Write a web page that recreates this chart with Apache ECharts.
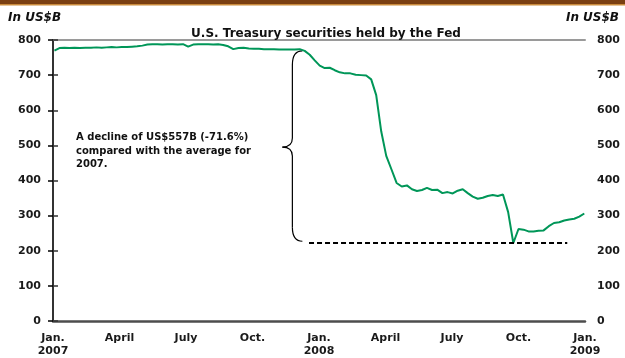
<!DOCTYPE html>
<html><head><meta charset="utf-8">
<script src="https://cdn.jsdelivr.net/npm/echarts@6/dist/echarts.min.js"></script>
<style>html,body{margin:0;padding:0;background:#fff}#c{width:625px;height:358px}</style>
</head><body><div id="c"></div>
<script>
// ---- data ----
const startDate = '2007-01-03';           // first weekly observation (Wednesday)
const holdings = [
  770,777,778,777,778,777,778,778,779,778,
  779,780,779,780,780,781,782,784,787,788,
  788,787,788,788,787,788,781,787,788,788,
  788,787,788,786,782,774,777,778,776,775,
  775,774,774,774,773,773,773,773,774,769,
  758,742,727,720,721,714,708,705,705,701,
  700,699,688,643,540,470,432,393,383,386,
  375,370,373,379,373,374,364,367,363,371,
  375,364,354,348,351,356,359,356,360,310,
  222,262,260,255,255,257,258,270,279,281,
  286,289,291,297,306
];
const tickLabels = ['Jan.\n2007','April','July','Oct.','Jan.\n2008','April','July','Oct.','Jan.\n2009'];
const lowValue = 222;          // 2008 low (dashed reference)
const avg2007Top = 769;        // brace top value
const titleText = 'U.S. Treasury securities held by the Fed';
const unitText = 'In US$B';
const noteText = 'A decline of US$557B (-71.6%)\ncompared with the average for\n2007.';

// ---- helpers ----
function monthPos(d){
  const y=d.getUTCFullYear(), m=d.getUTCMonth();
  const dim=new Date(Date.UTC(y,m+1,0)).getUTCDate();
  return (y-2007)*12 + m + (d.getUTCDate()-1)/dim;
}
const t0 = new Date(startDate+'T00:00:00Z').getTime();
const seriesData = holdings.map((v,i)=>[monthPos(new Date(t0+i*7*86400000)), v]);

const FONT = '"DejaVu Sans", Verdana, sans-serif';
const chart = echarts.init(document.getElementById('c'), null, {renderer:'canvas'});
const yLab = {fontFamily:FONT,fontWeight:'bold',fontSize:11,color:'#1a1a1a',margin:12};
chart.setOption({
  animation:false,
  backgroundColor:'#fff',
  title:{text:titleText,left:321,textAlign:'center',top:23,
    textStyle:{fontFamily:FONT,fontWeight:'bold',fontSize:12,color:'#111'}},
  grid:{left:53,right:40,top:40,bottom:36},
  xAxis:[{
    type:'value',min:0,max:24,interval:3,
    axisLine:{show:true,onZero:false,lineStyle:{color:'#4d4d4d',width:2.5}},
    axisTick:{show:false},splitLine:{show:false},
    axisLabel:{fontFamily:FONT,fontWeight:'bold',fontSize:11,color:'#1a1a1a',margin:11,lineHeight:13,
      formatter:v=>tickLabels[Math.round(v/3)]||''}
  },{
    type:'value',min:0,max:24,position:'top',
    axisLine:{show:true,onZero:false,lineStyle:{color:'#9a9a9a',width:2}},
    axisTick:{show:false},axisLabel:{show:false},splitLine:{show:false}
  }],
  yAxis:[{
    type:'value',min:0,max:800,interval:100,position:'left',
    axisLine:{show:true,lineStyle:{color:'#000',width:2}},
    axisTick:{show:true,length:5,lineStyle:{color:'#000',width:1.5}},
    splitLine:{show:false},axisLabel:yLab
  },{
    type:'value',min:0,max:800,interval:100,position:'right',
    axisLine:{show:true,lineStyle:{color:'#333',width:2}},
    axisTick:{show:true,length:5,lineStyle:{color:'#333',width:1.5}},
    splitLine:{show:false},axisLabel:yLab
  }],
  series:[{
    type:'line',data:seriesData,showSymbol:false,symbol:'none',
    lineStyle:{color:'#009658',width:2},
    markLine:{silent:true,symbol:['none','none'],label:{show:false},
      lineStyle:{color:'#000',type:[5,3],width:2},
      data:[[{coord:[11.55,lowValue]},{coord:[23.2,lowValue]}]]}
  }]
});

// brace + annotations
const braceX = 11.25;
const pTop = chart.convertToPixel({gridIndex:0},[braceX,avg2007Top]);
const pBot = chart.convertToPixel({gridIndex:0},[braceX,lowValue+5]);
const px = pTop[0], yt = pTop[1], yb = pBot[1], sx = px-10, tx = px-20, ym = (yt+yb)/2+1;
const bs = {stroke:'#000',lineWidth:1.2,fill:null};
const brace = [
  {type:'bezierCurve',shape:{x1:px,y1:yt,cpx1:sx,cpy1:yt,x2:sx,y2:yt+14},style:bs},
  {type:'line',shape:{x1:sx,y1:yt+14,x2:sx,y2:ym-9},style:bs},
  {type:'bezierCurve',shape:{x1:sx,y1:ym-9,cpx1:sx,cpy1:ym,x2:tx,y2:ym},style:bs},
  {type:'bezierCurve',shape:{x1:tx,y1:ym,cpx1:sx,cpy1:ym,x2:sx,y2:ym+9},style:bs},
  {type:'line',shape:{x1:sx,y1:ym+9,x2:sx,y2:yb-14},style:bs},
  {type:'bezierCurve',shape:{x1:sx,y1:yb-14,cpx1:sx,cpy1:yb,x2:px,y2:yb},style:bs}
];
chart.setOption({graphic:[
  {type:'rect',shape:{x:0,y:0,width:625,height:4},style:{fill:'#7a3f12'}},
  {type:'rect',shape:{x:0,y:4,width:625,height:1.5},style:{fill:'#c98a3c'}},
  {type:'text',x:8,y:12,style:{text:unitText,font:'italic bold 12px '+FONT,fill:'#111'}},
  {type:'text',x:619,y:12,style:{text:unitText,font:'italic bold 12px '+FONT,fill:'#111',align:'right'}},
  {type:'text',x:76,y:131,style:{text:noteText,font:'bold 10px '+FONT,fill:'#111',lineHeight:13.5}}
].concat(brace)});
</script></body></html>
